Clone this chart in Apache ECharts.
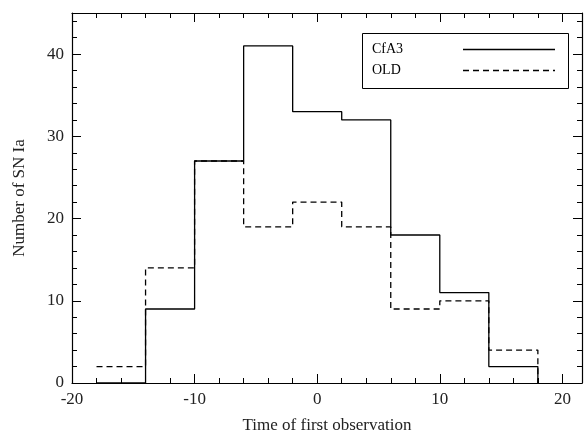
<!DOCTYPE html>
<html><head><meta charset="utf-8">
<script src="https://cdn.jsdelivr.net/npm/echarts@6/dist/echarts.min.js"></script>
<style>html,body{margin:0;background:#fff}#c{width:584px;height:441px}</style>
</head><body><div id="c"></div>
<script>
const edges = [-18, -14, -10, -6, -2, 2, 6, 10, 14, 18];
const cfa3 = [0, 9, 27, 41, 33, 32, 18, 11, 2];
const old = [2, 14, 27, 19, 22, 19, 9, 10, 4];
const seriesNames = ['CfA3', 'OLD'];

function steps(vals) {
  const pts = [];
  vals.forEach((v, i) => { pts.push([edges[i], v]); });
  pts.push([edges[edges.length - 1], vals[vals.length - 1]]);
  pts.push([edges[edges.length - 1], 0]);
  return pts;
}
const font = 'Liberation Serif';
function ax(extra) {
  return Object.assign({
    type: 'value',
    axisLine: { show: true, onZero: false, lineStyle: { color: '#000', width: 1.2 } },
    axisTick: { show: true, inside: true, length: 9, lineStyle: { color: '#000' } },
    minorTick: { show: true, splitNumber: 5, length: 5, lineStyle: { color: '#000' } },
    splitLine: { show: false },
    axisLabel: { color: '#222', fontFamily: font, fontSize: 17, showMaxLabel: false }
  }, extra);
}
const chart = echarts.init(document.getElementById('c'));
chart.setOption({
  animation: false,
  grid: { left: 72, right: 2, top: 13, bottom: 58 },
  xAxis: [
    ax({ min: -20, max: 21.6, interval: 10, position: 'bottom',
      name: 'Time of first observation', nameLocation: 'middle', nameGap: 34,
      nameTextStyle: { fontFamily: font, fontSize: 17, color: '#222' } }),
    ax({ min: -20, max: 21.6, interval: 10, position: 'top', axisLabel: { show: false } })
  ],
  yAxis: [
    ax({ min: 0, max: 45, interval: 10, position: 'left',
      name: 'Number of SN Ia', nameLocation: 'middle', nameGap: 44,
      nameTextStyle: { fontFamily: font, fontSize: 17, color: '#222' } }),
    ax({ min: 0, max: 45, interval: 10, position: 'right', axisLabel: { show: false } })
  ],
  graphic: [
    { type: 'rect', left: 362, top: 33, shape: { width: 206, height: 55 },
      style: { fill: '#fff', stroke: '#000', lineWidth: 1 }, z: 100 },
    { type: 'text', left: 372, top: 42, style: { text: seriesNames[0], font: '14px "Liberation Serif"', fill: '#000' }, z: 101 },
    { type: 'text', left: 372, top: 63, style: { text: seriesNames[1], font: '14px "Liberation Serif"', fill: '#000' }, z: 101 },
    { type: 'line', shape: { x1: 463, y1: 49.5, x2: 555, y2: 49.5 }, style: { stroke: '#000', lineWidth: 1.3 }, z: 101 },
    { type: 'line', shape: { x1: 463, y1: 70.5, x2: 555, y2: 70.5 }, style: { stroke: '#000', lineWidth: 1.3, lineDash: [6, 4] }, z: 101 }
  ],
  series: [
    { name: seriesNames[0], type: 'line', step: 'end', data: steps(cfa3), symbol: 'none',
      lineStyle: { color: '#000', width: 1.3 } },
    { name: seriesNames[1], type: 'line', step: 'end', data: steps(old), symbol: 'none',
      lineStyle: { color: '#000', width: 1.3, type: [6, 4] } }
  ]
});
</script></body></html>
